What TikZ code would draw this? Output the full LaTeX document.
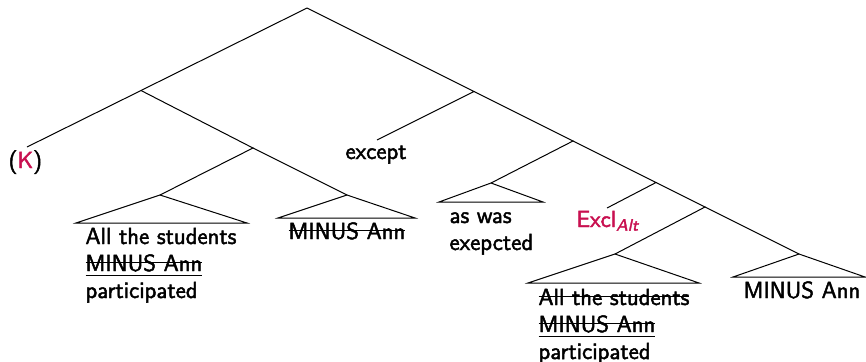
\documentclass[tikz,border=0pt]{standalone}
\usepackage{fontspec}
\setsansfont{Latin Modern Sans}[FakeBold=2]
\usepackage{xcolor}
\definecolor{accent}{RGB}{200,16,80}
\newsavebox\strkbox
\newcommand\strk[1]{\sbox\strkbox{#1}\rlap{\rule[0.34em]{\wd\strkbox}{0.5pt}}\usebox\strkbox}
\newcommand\strku[1]{\sbox\strkbox{#1}\rlap{\rule[0.34em]{\wd\strkbox}{0.5pt}}\rlap{\rule[-0.22em]{\wd\strkbox}{0.5pt}}\usebox\strkbox}
\begin{document}
\begin{tikzpicture}[x=0.5pt,y=-0.5pt,line width=0.5pt,
  lbl/.style={font=\sffamily\fontsize{11.7}{13.5}\selectfont,inner sep=0pt,anchor=base west}]
\useasboundingbox (0,0) rectangle (866,361);
% tree points
\coordinate (root) at (307,8);
\coordinate (L) at (141,90.5);
\coordinate (Kend) at (27,147);
\coordinate (LL) at (253,148);
\coordinate (LLa) at (160,195);
\coordinate (LLa1) at (76,223);
\coordinate (LLa2) at (247,223);
\coordinate (LLb) at (347,195);
\coordinate (LLb1) at (278,218);
\coordinate (LLb2) at (415,218);
\coordinate (R) at (474,91.5);
\coordinate (excend) at (377,140);
\coordinate (RR) at (573,141);
\coordinate (RRa) at (491,183);
\coordinate (RRa1) at (439,202);
\coordinate (RRa2) at (543,202);
\coordinate (RRR) at (656,182.5);
\coordinate (exclend) at (607,208);
\coordinate (R4) at (705,207);
\coordinate (R4a) at (615,254);
\coordinate (R4a1) at (528,283);
\coordinate (R4a2) at (699,283);
\coordinate (R4b) at (799,254);
\coordinate (R4b1) at (733,277);
\coordinate (R4b2) at (865,277);
% branches
\draw (root) -- (L) -- (Kend);
\draw (L) -- (LL) -- (LLa);
\draw (LL) -- (LLb);
\draw (root) -- (R) -- (excend);
\draw (R) -- (RR) -- (RRa);
\draw (RR) -- (RRR) -- (exclend);
\draw (RRR) -- (R4) -- (R4a);
\draw (R4) -- (R4b);
% triangles
\draw (LLa) -- (LLa1) -- (LLa2) -- cycle;
\draw (LLb) -- (LLb1) -- (LLb2) -- cycle;
\draw (RRa) -- (RRa1) -- (RRa2) -- cycle;
\draw (R4a) -- (R4a1) -- (R4a2) -- cycle;
\draw (R4b) -- (R4b1) -- (R4b2) -- cycle;
% labels
\node[lbl] (k) at (8,168) {(\textcolor{accent}{K})};
\node[lbl] (exc) at (345,159) {except};
\node[lbl] (t1a) at (85,244) {All the students};
\node[lbl] (t1b) at (85,271) {\strku{MINUS Ann}};
\node[lbl] (t1c) at (85,298) {participated};
\node[lbl] (t2) at (288,239) {\strk{MINUS Ann}};
\node[lbl] (t3a) at (449,223) {as was};
\node[lbl] (t3b) at (449,250) {exepcted};
\node[lbl,text=accent] (excl) at (576,227) {Excl\textsubscript{\textit{Alt}}};
\node[lbl] (t4a) at (538,305) {\strk{All the students}};
\node[lbl] (t4b) at (538,332) {\strku{MINUS Ann}};
\node[lbl] (t4c) at (538,359) {participated};
\node[lbl] (t5) at (743,298) {MINUS Ann};
\end{tikzpicture}
\end{document}
